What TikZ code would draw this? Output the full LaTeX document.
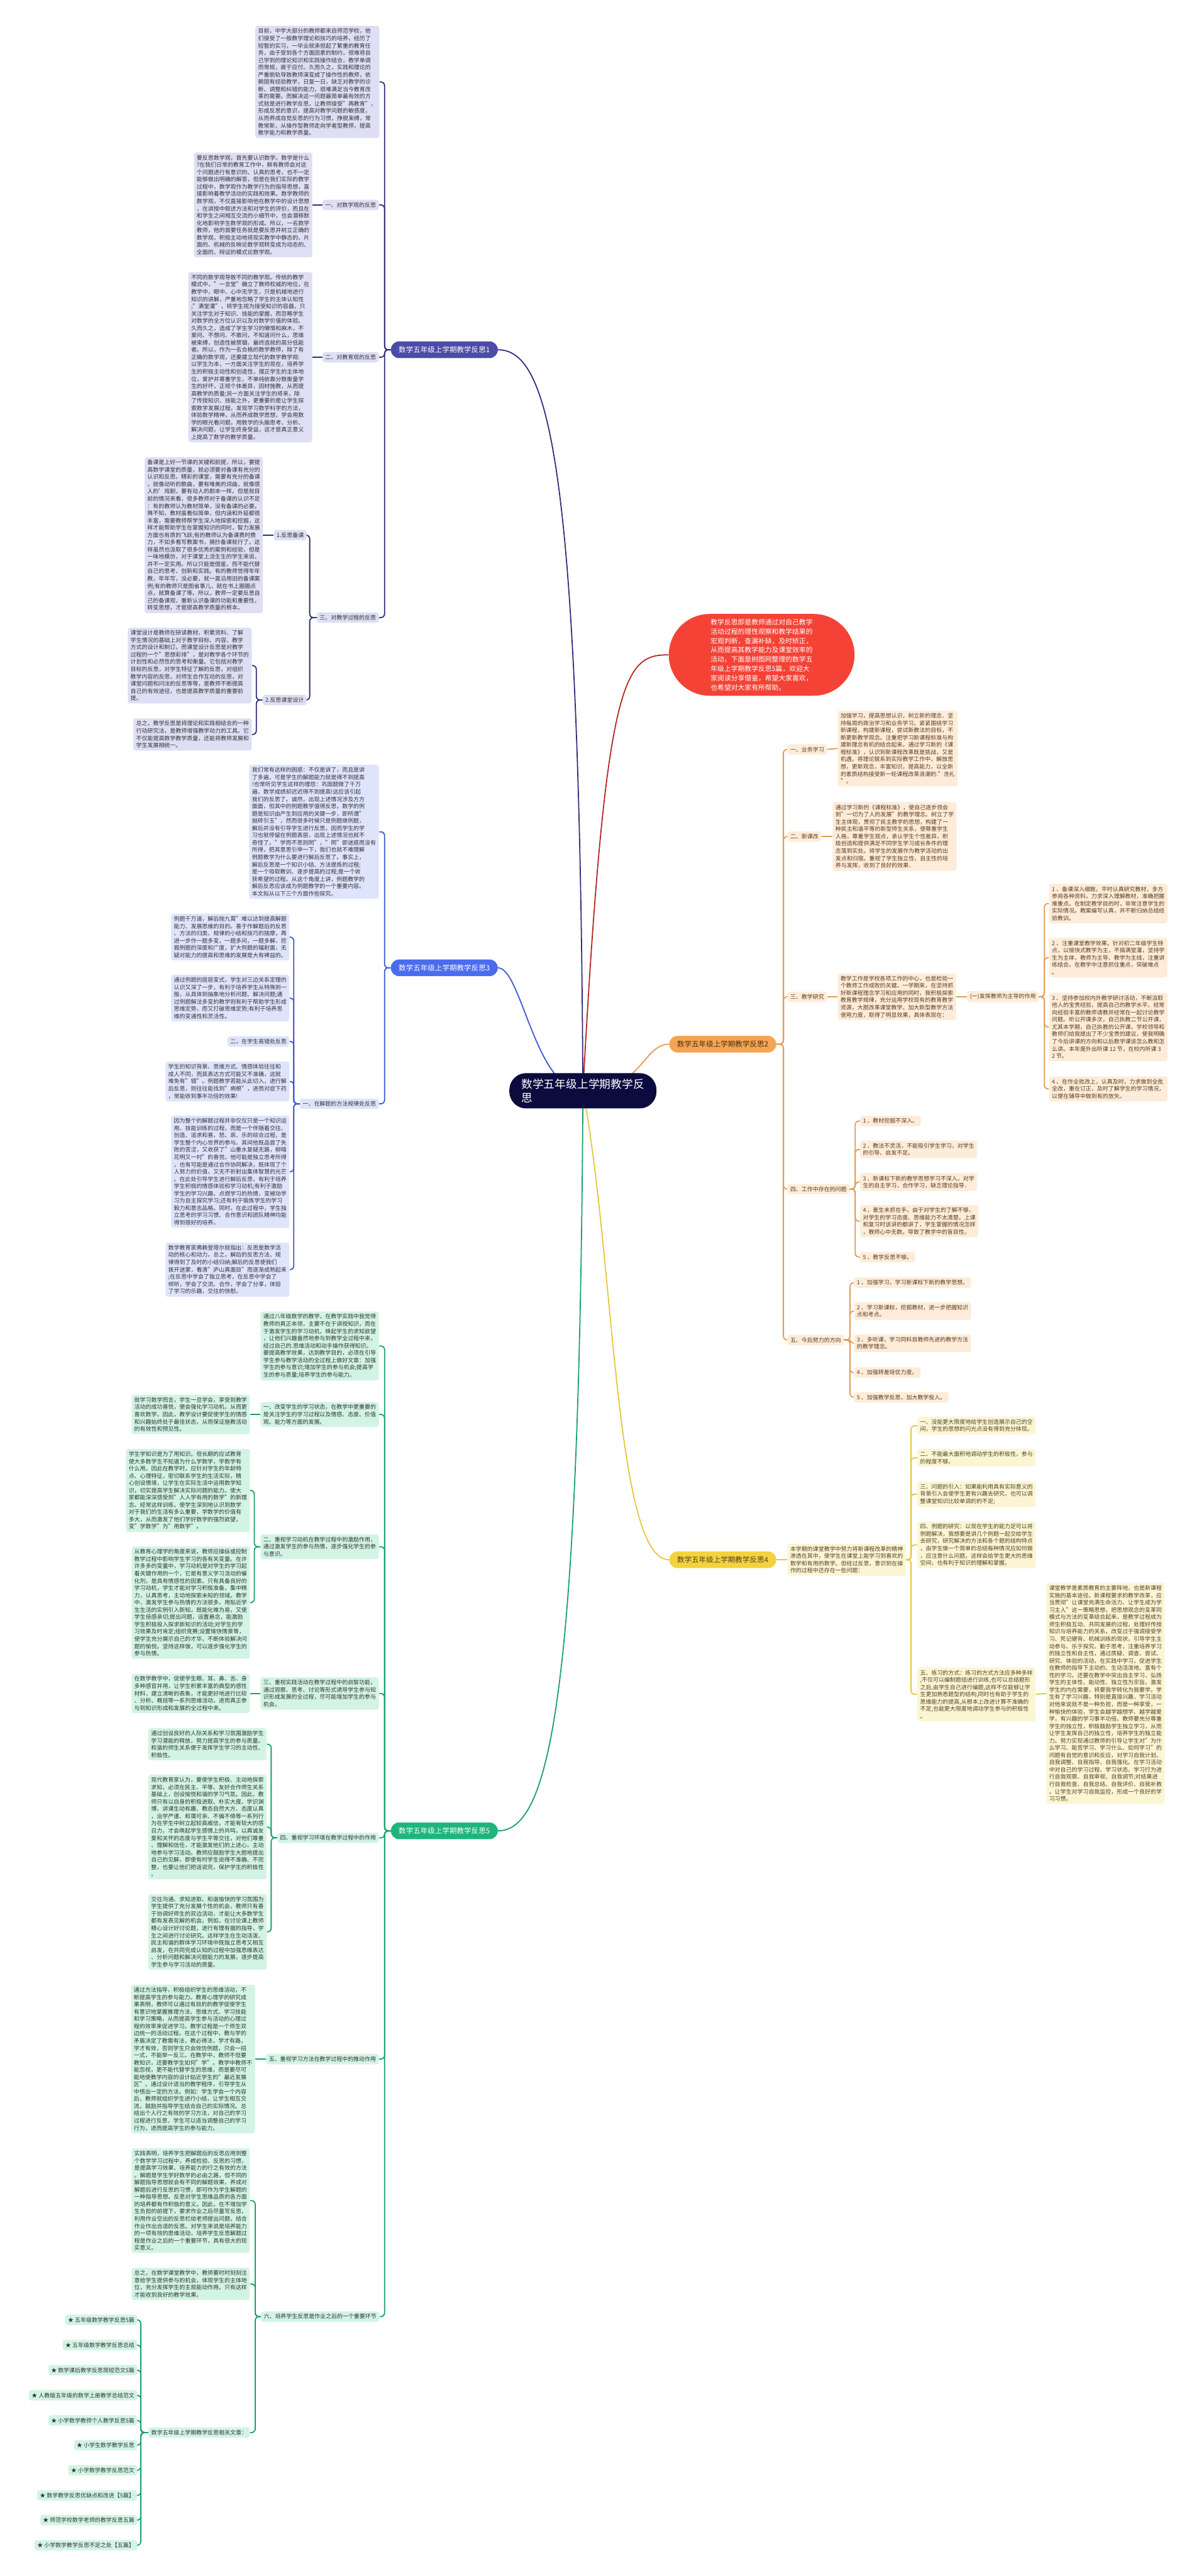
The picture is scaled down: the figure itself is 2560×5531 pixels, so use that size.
\documentclass[tikz,border=0pt]{standalone}
\usepackage{fontspec}
\setmainfont{Noto Sans CJK SC}
\usepackage{xcolor}
\usepackage{tikz}
\usetikzlibrary{backgrounds}
\definecolor{rootnavy}{HTML}{0B0B3D}
\definecolor{introred}{HTML}{F44336}
\definecolor{introink}{HTML}{B3261E}
\definecolor{navyhead}{HTML}{4B4BA8}
\definecolor{navyink}{HTML}{2D2D7A}
\definecolor{navyfill}{HTML}{DEDEF4}
\definecolor{bluehead}{HTML}{4A6CF0}
\definecolor{blueink}{HTML}{3A57D4}
\definecolor{bluefill}{HTML}{DEE4FC}
\definecolor{greenhead}{HTML}{1DB57C}
\definecolor{greenink}{HTML}{17A06A}
\definecolor{greenfill}{HTML}{D2F4E5}
\definecolor{orangehead}{HTML}{F5A551}
\definecolor{orangeink}{HTML}{E39A4F}
\definecolor{orangefill}{HTML}{FDECD9}
\definecolor{orangetext}{HTML}{5A3A1C}
\definecolor{yellowhead}{HTML}{F4D23D}
\definecolor{yellowink}{HTML}{E7C53A}
\definecolor{yellowfill}{HTML}{FCF5D3}
\definecolor{yellowtext}{HTML}{4D4222}
\definecolor{bodytext}{HTML}{333333}
\tikzstyle{rootbox} = [rectangle, rounded corners=18pt, fill=rootnavy, text=white, align=left,
  inner xsep=13pt, inner ysep=6pt, font=\fontsize{12pt}{15pt}\selectfont]
\tikzstyle{introbox} = [rectangle, rounded corners=44pt, fill=introred, text=white, align=left,
  inner xsep=45pt, inner ysep=5.5pt, font=\fontsize{7.3pt}{10pt}\selectfont]
\tikzstyle{headbox} = [rectangle, rounded corners=9pt, minimum height=18pt, inner xsep=8.5pt,
  font=\fontsize{7.8pt}{9pt}\selectfont]
\tikzstyle{leafbox} = [rectangle, rounded corners=2.5pt, align=left, inner xsep=3pt, inner ysep=2.75pt,
  font=\fontsize{6.05pt}{7.8pt}\selectfont, text=bodytext]
\tikzstyle{navybox} = [leafbox, fill=navyfill]
\tikzstyle{bluebox} = [leafbox, fill=bluefill]
\tikzstyle{greenbox} = [leafbox, fill=greenfill]
\tikzstyle{orangebox} = [leafbox, fill=orangefill, text=orangetext]
\tikzstyle{yellowbox} = [leafbox, fill=yellowfill, text=yellowtext]
\tikzstyle{navylink} = [draw=navyink, line width=1.2pt, rounded corners=4pt]
\tikzstyle{bluelink} = [draw=blueink, line width=1.2pt, rounded corners=4pt]
\tikzstyle{greenlink} = [draw=greenink, line width=1.2pt, rounded corners=4pt]
\tikzstyle{orangelink} = [draw=orangeink, line width=1.2pt, rounded corners=4pt]
\tikzstyle{yellowlink} = [draw=yellowink, line width=1.2pt, rounded corners=4pt]
\tikzstyle{redlink} = [draw=introink, line width=1.2pt]

\begin{document}
\begin{tikzpicture}[x=0.5pt, y=-0.5pt]
  \useasboundingbox (0,0) rectangle (2560,5531);

  \node (root) [rootbox] at (1252,2342) {数学五年级上学期教学反\\思};
  \node (intro) [introbox, anchor=west] at (1436,1406) {教学反思即是教师通过对自己教学\\活动过程的理性观察和教学结果的\\宏观判断，查漏补缺，及时矫正，\\从而提高其教学能力及课堂效率的\\活动。下面是树图网整理的数学五\\年级上学期教学反思5篇，欢迎大\\家阅读分享借鉴，希望大家喜欢，\\也希望对大家有所帮助。};

  \node (refl1) [headbox, fill=navyhead, text=white, anchor=west] at (839,751) {数学五年级上学期教学反思1};
  \node (refl3) [headbox, fill=bluehead, text=white, anchor=west] at (839,2078) {数学五年级上学期教学反思3};
  \node (refl5) [headbox, fill=greenhead, text=white, anchor=west] at (839,3931) {数学五年级上学期教学反思5};
  \node (refl2) [headbox, fill=orangehead, text=orangetext!80!black, anchor=west] at (1437,2242) {数学五年级上学期教学反思2};
  \node (refl4) [headbox, fill=yellowhead, text=yellowtext, anchor=west] at (1437,3349) {数学五年级上学期教学反思4};

  \node (r1lead) [navybox, anchor=east] at (815,176) {目前，中学大部分的教师都来自师范学校，他\\们接受了一般教学理论和技巧的培养，经历了\\短暂的实习，一毕业就承担起了繁重的教育任\\务，由于受到各个方面因素的制约，很难将自\\己学到的理论知识和实践操作结合，教学单调\\而常规，疲于应付。久而久之，实践和理论的\\严重脱轨导致教师演变成了操作性的教师，依\\赖固有经验教学，日复一日，缺乏对教学的诊\\断、调整和纠错的能力，很难满足当今教育改\\革的需要。而解决这一问题最简单最有效的方\\式就是进行教学反思，让教师接受"再教育"，\\形成反思的意识，提高对教学问题的敏感度，\\从而养成自觉反思的行为习惯，挣脱束缚，常\\教常新，从操作型教师走向学者型教师，提高\\教学能力和教学质量。};
  \node (r1math) [navybox, anchor=east] at (814,440) {一、对数学观的反思};
  \node (r1mathtx) [navybox, anchor=east] at (671,440) {要反思数学观，首先要认识数学。数学是什么\\?在我们日常的教育工作中，鲜有教师会对这\\个问题进行有意识的、认真的思考，也不一定\\能够做出明确的解答，但是在我们实际的教学\\过程中，数学观作为教学行为的指导思想，直\\接影响着教学活动的实践和效果。数学教师的\\数学观，不仅直接影响他在教学中的设计思想\\，在讲授中叙述方法和对学生的评价，而且在\\和学生之间相互交流的小细节中，也会潜移默\\化地影响学生数学观的形成。所以，一名数学\\教师，他的首要任务就是要反思并树立正确的\\数学观，积极主动地将现实教学中静态的、片\\面的、机械的反映论数学观转变成为动态的、\\全面的、辩证的模式论数学观。};
  \node (r1edu) [navybox, anchor=east] at (814,767) {二、对教育观的反思};
  \node (r1edutx) [navybox, anchor=east] at (671,767) {不同的数学观导致不同的教学观。传统的教学\\模式中，"一言堂"确立了教师权威的地位，在\\教学中，眼中、心中无学生，只是机械地进行\\知识的讲解，严重地忽略了学生的主体认知性\\;"满堂灌"，将学生视为接受知识的容器，只\\关注学生对于知识、技能的掌握，而忽略学生\\对数学的全方位认识以及对数学价值的体验。\\久而久之，造成了学生学习的懒惰和麻木，不\\爱问、不想问、不敢问，不知道问什么，思维\\被束缚，创造性被禁锢，最终造就的高分低能\\者。所以，作为一名合格的数学教师，除了有\\正确的数学观，还要建立现代的数学教学观:\\以学生为本，一方面关注学生的现在，培养学\\生的积极主动性和创造性，摆正学生的主体地\\位，爱护并尊重学生，不单纯依靠分数衡量学\\生的好坏，正视个体差异，因材施教，从而提\\高教学的质量;另一方面关注学生的将来，除\\了传授知识、技能之外，更重要的是让学生探\\索数学发展过程，发现学习数学科学的方法，\\体验数学精神，从而养成数学思想，学会用数\\学的眼光看问题，用数学的头脑思考、分析、\\解决问题，让学生终身受益，这才是真正意义\\上提高了数学的教学质量。};
  \node (r1proc) [navybox, anchor=east] at (814,1326) {三、对教学过程的反思};
  \node (r1prep) [navybox, anchor=east] at (659,1149) {1.反思备课};
  \node (r1preptx) [navybox, anchor=east] at (565,1149) {备课是上好一节课的关键和前提，所以，要提\\高数学课堂的质量，就必须要对备课有充分的\\认识和反思。精彩的课堂，需要有充分的备课\\，就像动听的歌曲，要有唯美的词曲，就像感\\人的'戏剧，要有动人的剧本一样。但是就目\\前的情况来看，很多教师对于备课的认识不足\\：有的教师认为教材简单，没有备课的必要。\\殊不知，教材虽看似简单，但内涵和外延都很\\丰富，需要教师帮学生深入地探索和挖掘，这\\样才能帮助学生在掌握知识的同时，智力发展\\方面也有质的飞跃;有的教师认为备课费时费\\力，不如多看写教案书，摘抄备课就行了。这\\样虽然也汲取了很多优秀的案例和经验，但是\\一味地模仿，对于课堂上活生生的学生来说，\\并不一定实用。所以只能是借鉴，而不能代替\\自己的思考、创新和实践。有的教师觉得年年\\教，年年写，没必要，就一直沿用旧的备课案\\例;有的教师只是图省事儿，就在书上圈圈点\\点，就算备课了等。所以，教师一定要反思自\\己的备课观，重新认识备课的功能和重要性，\\转变思想，才是提高教学质量的根本。};
  \node (r1plan) [navybox, anchor=east] at (659,1503) {2.反思课堂设计};
  \node (r1plantx) [navybox, anchor=east] at (541,1429) {课堂设计是教师在研读教材、积累资料、了解\\学生情况的基础上对于教学目标、内容、教学\\方式的设计和制订。而课堂设计反思是对教学\\过程的一个"思想彩排"，是对教学各个环节的\\计划性和必然性的思考和衡量。它包括对教学\\目标的反思，对学生特征了解的反思，对组织\\教学内容的反思，对师生合作互动的反思，对\\课堂问题和问法的反思等等，是教师不断提高\\自己的有效途径，也是提高教学质量的重要前\\提。};
  \node (r1sum) [navybox, anchor=east] at (541,1577) {总之，教学反思是将理论和实践相结合的一种\\行动研究法，是教师增强教学动力的工具。它\\不仅能提高数学教学质量，还能将教师发展和\\学生发展相统一。};

  \node (r3lead) [bluebox, anchor=east] at (814,1786) {我们常有这样的困惑：不仅是讲了，而且是讲\\了多遍，可是学生的解题能力就是得不到提高\\!也常听见学生这样的埋怨：巩固题做了千万\\遍，数学成绩却迟迟得不到提高!这应该引起\\我们的反思了。诚然，出现上述情况涉及方方\\面面，但其中的例题教学值得反思，数学的例\\题是知识由产生到应用的关键一步，即所谓"\\抛砖引玉"，然而很多时候只是例题继例题，\\解后并没有引导学生进行反思，因而学生的学\\习也就停留在例题表层，出现上述情况也就不\\奇怪了。"学而不思则罔"，"罔"即迷惑而没有\\所得，把其意思引申一下，我们也就不难理解\\例题教学为什么要进行解后反思了。事实上，\\解后反思是一个知识小结、方法提炼的过程;\\是一个吸取教训、逐步提高的过程;是一个收\\获希望的过程。从这个角度上讲，例题教学的\\解后反思应该成为例题教学的一个重要内容。\\本文拟从以下三个方面作些探究。};
  \node (r3rule) [bluebox, anchor=east] at (814,2370) {一、在解题的方法规律处反思};
  \node (r3ex1) [bluebox, anchor=east] at (622,2012) {例题千万道，解后抛九霄"难以达到提高解题\\能力、发展思维的目的。善于作解题后的反思\\、方法的归类、规律的小结和技巧的揣摩，再\\进一步作一题多变，一题多问，一题多解，挖\\掘例题的深度和广度，扩大例题的辐射面，无\\疑对能力的提高和思维的发展是大有裨益的。};
  \node (r3ex2) [bluebox, anchor=east] at (622,2143) {通过例题的层层变式，学生对三边关系定理的\\认识又深了一步，有利于培养学生从特殊到一\\般，从具体到抽象地分析问题、解决问题;通\\过例题解法多变的教学则有利于帮助学生形成\\思维定势，而又打破思维定势;有利于培养思\\维的变通性和灵活性。};
  \node (r3err) [bluebox, anchor=east] at (622,2236) {二，在学生易错处反思};
  \node (r3ex3) [bluebox, anchor=east] at (622,2322) {学生的知识背景、思维方式、情感体验往往和\\成人不同，而其表达方式可能又不准确，这就\\难免有"错"。例题教学若能从此切入，进行解\\后反思，则往往能找到"病根"，进而对症下药\\，常能收到事半功倍的效果!};
  \node (r3ex4) [bluebox, anchor=east] at (622,2516) {因为整个的解题过程并非仅仅只是一个知识运\\用、技能训练的过程，而是一个伴随着交往、\\创造、追求和喜、怒、哀、乐的综合过程，是\\学生整个内心世界的参与。其间他既品尝了失\\败的苦涩，又收获了"山重水复疑无路，柳暗\\花明又一村"的喜悦，他可能是独立思考所得\\，也有可能是通过合作协同解决，既体现了个\\人努力的价值，又无不折射出集体智慧的光芒\\。在此处引导学生进行解后反思，有利于培养\\学生积极的情感体验和学习动机;有利于激励\\学生的学习兴趣，点燃学习的热情，变被动学\\习为自主探究学习;还有利于锻炼学生的学习\\毅力和意志品格。同时，在此过程中，学生独\\立思考的学习习惯、合作意识和团队精神均能\\得到很好的培养。};
  \node (r3ex5) [bluebox, anchor=east] at (622,2726) {数学教育家弗赖登塔尔就指出：反思是数学活\\动的核心和动力。总之，解后的反思方法、规\\律得到了及时的小结归纳;解后的反思使我们\\拨开迷蒙，看清"庐山真面目"而逐渐成熟起来\\;在反思中学会了独立思考，在反思中学会了\\倾听，学会了交流、合作，学会了分享，体验\\了学习的乐趣，交往的快慰。};

  \node (r5lead) [greenbox, anchor=east] at (814,2890) {通过八年级数学的教学，在教学实践中我觉得\\教师的真正本领，主要不在于讲授知识，而在\\于激发学生的学习动机，唤起学生的求知欲望\\，让他们兴趣盎然地参与到教学全过程中来，\\经过自己的.思维活动和动手操作获得知识。\\要提高教学效果，达到教学目的，必须在引导\\学生参与教学活动的全过程上做好文章：加强\\学生的参与意识;增加学生的参与机会;提高学\\生的参与质量;培养学生的参与能力。};
  \node (r5state) [greenbox, anchor=east] at (814,3037) {一、改变学生的学习状态，在教学中更重要的\\是关注学生的学习过程以及情感、态度、价值\\观、能力等方面的发展。};
  \node (r5statetx) [greenbox, anchor=east] at (537,3037) {就学习数学而言，学生一旦学会，享受到教学\\活动的成功喜悦，便会强化学习动机，从而更\\喜欢数学。因此，教学设计要促使学生的情感\\和兴趣始终处于最佳状态，从而保证施教活动\\的有效性和预见性。};
  \node (r5motive) [greenbox, anchor=east] at (814,3321) {二、重视学习动机在教学过程中的激励作用，\\通过激发学生的参与热情，逐步强化学生的参\\与意识。};
  \node (r5motivea) [greenbox, anchor=east] at (537,3200) {学生学知识是为了用知识。但长期的应试教育\\使大多数学生不知道为什么学数学，学数学有\\什么用。因此在教学时，应针对学生的年龄特\\点、心理特征，密切联系学生的生活实际，精\\心创设情境，让学生在实际生活中运用数学知\\识，切实提高学生解决实际问题的能力。使大\\家都能深深感受到"人人学有用的数学"的新理\\念。经常这样训练，使学生深刻地认识到数学\\对于我们的生活有多么重要，学数学的价值有\\多大，从而激发了他们学好数学的强烈欲望，\\变"学数学"为"用数学"。};
  \node (r5motiveb) [greenbox, anchor=east] at (537,3441) {从教育心理学的角度来说，教师应操纵或控制\\教学过程中影响学生学习的各有关变量。在许\\许多多的变量中，学习动机是对学生的学习起\\着关键作用的一个，它是有意义学习活动的催\\化剂，是具有情感性的因素。只有具备良好的\\学习动机，学生才能对学习积极准备，集中精\\力，认真思考，主动地探索未知的领域。教学\\中，激发学生参与热情的方法很多。用贴近学\\生生活的实例引入新知，既能化难为易，又使\\学生倍感亲切;提出问题，设置悬念，能激励\\学生积极投入探求新知识的活动;对学生的学\\习效果及时肯定;组织竞赛;设置愉快情景等，\\使学生充分展示自己的才华，不断体验解决问\\题的愉悦。坚持这样做，可以逐步强化学生的\\参与热情。};
  \node (r5practice) [greenbox, anchor=east] at (814,3636) {三、重视实践活动在教学过程中的启智功能，\\通过观察、思考、讨论等形式诱导学生参与知\\识形成发展的全过程，尽可能增加学生的参与\\机会。};
  \node (r5practicetx) [greenbox, anchor=east] at (537,3636) {在数学教学中，促使学生眼、耳、鼻、舌、身\\多种感官并用，让学生积累丰富的典型的感性\\材料，建立清晰的表象，才能更好地进行比较\\、分析、概括等一系列思维活动，进而真正参\\与到知识形成和发展的全过程中来。};
  \node (r5env) [greenbox, anchor=east] at (814,3946) {四、重视学习环境在教学过程中的作用};
  \node (r5enva) [greenbox, anchor=east] at (573,3745) {通过创设良好的人际关系和学习氛围激励学生\\学习潜能的释放，努力提高学生的参与质量。\\和谐的师生关系便于发挥学生学习的主动性、\\积极性。};
  \node (r5envb) [greenbox, anchor=east] at (573,3923) {现代教育家认为，要使学生积极、主动地探索\\求知，必须在民主、平等、友好合作师生关系\\基础上，创设愉悦和谐的学习气氛。因此，教\\师只有以自身的积极进取、朴实大度、学识渊\\博、讲课生动有趣、教态自然大方、态度认真\\，治学严谨、和蔼可亲、不偏不倚等一系列行\\为在学生中树立起较高威信，才能有较大的感\\召力，才会唤起学生感情上的共鸣，以真诚友\\爱和关怀的态度与学生平等交往，对他们尊重\\、理解和信任，才能激发他们的上进心，主动\\地参与学习活动。教师应鼓励学生大胆地提出\\自己的见解，即使有时学生说得不准确、不完\\整，也要让他们把话说完，保护学生的积极性\\。};
  \node (r5envc) [greenbox, anchor=east] at (573,4148) {交往沟通、求知进取、和谐愉快的学习氛围为\\学生提供了充分发展个性的机会，教师只有善\\于协调好师生的双边活动，才能让大多数学生\\都有发表见解的机会。例如，在讨论课上教师\\精心设计好讨论题，进行有理有据的指导，学\\生之间进行讨论研究。这样学生在生动活泼、\\民主和谐的群体学习环境中既独立思考又相互\\启发，在共同完成认知的过程中加强思维表达\\、分析问题和解决问题能力的发展，逐步提高\\学生参与学习活动的质量。};
  \node (r5method) [greenbox, anchor=east] at (814,4421) {五、重视学习方法在教学过程中的推动作用};
  \node (r5methodtx) [greenbox, anchor=east] at (548,4421) {通过方法指导，积极组织学生的思维活动，不\\断提高学生的参与能力。教育心理学的研究成\\果表明，教师可以通过有目的的教学促使学生\\有意识地掌握推理方法、思维方式、学习技能\\和学习策略，从而提高学生参与活动的心理过\\程的效率来促进学习。教学过程是一个师生双\\边统一的活动过程。在这个过程中，教与学的\\矛盾决定了教需有法，教必得法，学才有路，\\学才有效，否则学生只会效仿例题，只会一招\\一式，不能举一反三。在教学中，教师不但要\\教知识，还要教学生如何"学"。教学中教师不\\能忽视，更不能代替学生的思维，而是要尽可\\能地使教学内容的设计贴近学生的"最近发展\\区"。通过设计适当的教学程序，引导学生从\\中悟出一定的方法。例如：学生学会一个内容\\后，教师就组织学生进行小结，让学生相互交\\流，鼓励并指导学生结合自己的实际情况。总\\结出个人行之有效的学习方法，对自己的学习\\过程进行反思，学生可以适当调整自己的学习\\行为，进而提高学生的参与能力。};
  \node (r5habit) [greenbox, anchor=east] at (815,4974) {六、培养学生反思是作业之后的一个重要环节};
  \node (r5habita) [greenbox, anchor=east] at (537,4725) {实践表明，培养学生把解题后的反思应用到整\\个数学学习过程中，养成检验、反思的习惯，\\是提高学习效果、培养能力的行之有效的方法\\。解题是学生学好数学的必由之路，但不同的\\解题指导思想就会有不同的解题效果，养成对\\解题后进行反思的习惯，即可作为学生解题的\\一种指导思想。反思对学生思维品质的各方面\\的培养都有作积极的意义。因此，在不增加学\\生负担的前提下，要求作业之后尽量写反思，\\利用作业空出的反思栏给老师提出问题，结合\\作业作出合适的反思。对学生来说是培养能力\\的一项有效的思维活动，培养学生反思解题过\\程是作业之后的一个重要环节，具有很大的现\\实意义。};
  \node (r5habitb) [greenbox, anchor=east] at (537,4904) {总之，在数学课堂教学中，教师要时时刻刻注\\意给学生提供参与的机会，体现学生的主体地\\位，充分发挥学生的主观能动作用。只有这样\\才能收到良好的教学效果。};
  \node (r5links) [greenbox, anchor=east] at (537,5223) {数学五年级上学期教学反思相关文章：};
  \node (link1) [greenbox, anchor=east] at (295,4981) {★ 五年级数学教学反思5篇};
  \node (link2) [greenbox, anchor=east] at (295,5035) {★ 五年级数学教学反思总结};
  \node (link3) [greenbox, anchor=east] at (295,5089) {★ 数学课后教学反思简短范文5篇};
  \node (link4) [greenbox, anchor=east] at (295,5143) {★ 人教版五年级的数学上册教学总结范文};
  \node (link5) [greenbox, anchor=east] at (295,5197) {★ 小学数学教师个人教学反思5篇};
  \node (link6) [greenbox, anchor=east] at (295,5250) {★ 小学生数学教学反思};
  \node (link7) [greenbox, anchor=east] at (295,5304) {★ 小学数学教学反思范文};
  \node (link8) [greenbox, anchor=east] at (295,5358) {★ 数学教学反思优缺点和改进【5篇】};
  \node (link9) [greenbox, anchor=east] at (295,5411) {★ 师范学校数学老师的教学反思五篇};
  \node (link10) [greenbox, anchor=east] at (295,5465) {★ 小学数学教学反思不足之处【五篇】};

  \node (r2study) [orangebox, anchor=west] at (1691,1609) {一、业务学习};
  \node (r2studytx) [orangebox, anchor=west] at (1799,1607) {加强学习，提高思想认识，树立新的理念．坚\\持每周的政治学习和业务学习，紧紧围绕学习\\新课程，构建新课程，尝试新教法的目标，不\\断更新教学观念。注重把学习新课程标准与构\\建新理念有机的结合起来。通过学习新的《课\\程标准》，认识到新课程改革既是挑战，又是\\机遇。将理论联系到实际教学工作中，解放思\\想，更新观念，丰富知识，提高能力，以全新\\的素质结构接受新一轮课程改革浪潮的."洗礼\\"。};
  \node (r2reform) [orangebox, anchor=west] at (1691,1796) {二、新课改};
  \node (r2reformtx) [orangebox, anchor=west] at (1788,1796) {通过学习新的《课程标准》，使自己逐步领会\\到"一切为了人的发展"的教学理念。树立了学\\生主体观，贯彻了民主教学的思想，构建了一\\种民主和谐平等的新型师生关系，使尊重学生\\人格，尊重学生观点，承认学生个性差异，积\\极创造和提供满足不同学生学习成长条件的理\\念落到实处。将学生的发展作为教学活动的出\\发点和归宿。重视了学生独立性，自主性的培\\养与发挥，收到了良好的效果．};
  \node (r2research) [orangebox, anchor=west] at (1691,2140) {三、教学研究};
  \node (r2researchtx) [orangebox, anchor=west] at (1799,2140) {教学工作是学校各项工作的中心，也是检验一\\个教师工作成败的关键。一学期来，在坚持抓\\好新课程理念学习和应用的同时，我积极探索\\教育教学规律，充分运用学校现有的教育教学\\资源，大胆改革课堂教学，加大新型教学方法\\使用力度，取得了明显效果，具体表现在：};
  \node (r2guide) [orangebox, anchor=west] at (2077,2140) {(一)发挥教师为主导的作用};
  \node (r2g1) [orangebox, anchor=west] at (2253,1940) {1 、备课深入细致。平时认真研究教材，多方\\参阅各种资料，力求深入理解教材，准确把握\\难重点。在制定教学目的时，非常注意学生的\\实际情况。教案编写认真，并不断归纳总结经\\验教训。};
  \node (r2g2) [orangebox, anchor=west] at (2253,2056) {2 、注重课堂教学效果。针对初二年级学生特\\点，以愉快式教学为主，不搞满堂灌，坚持学\\生为主体，教师为主导、教学为主线，注重讲\\练结合。在教学中注意抓住重点，突破难点\\。};
  \node (r2g3) [orangebox, anchor=west] at (2253,2205) {3 、坚持参加校内外教学研讨活动，不断汲取\\他人的宝贵经验，提高自己的教学水平。经常\\向经验丰富的教师请教并经常在一起讨论教学\\问题。听公开课多次，自己执教二节公开课，\\尤其本学期，自己执教的公开课，学校领导和\\教师们给我提出了不少宝贵的建议，使我明确\\了今后讲课的方向和以后数学课该怎么教和怎\\么讲。本年度外出听课 12 节，在校内听课 3\\2 节。};
  \node (r2g4) [orangebox, anchor=west] at (2253,2338) {4 、在作业批改上，认真及时，力求做到全批\\全改，重在订正，及时了解学生的学习情况，\\以便在辅导中做到有的放矢。};
  \node (r2issue) [orangebox, anchor=west] at (1691,2553) {四、工作中存在的问题};
  \node (r2i1) [orangebox, anchor=west] at (1847,2407) {1 、教材挖掘不深入。};
  \node (r2i2) [orangebox, anchor=west] at (1847,2468) {2 、教法不灵活，不能吸引学生学习，对学生\\的引导、启发不足。};
  \node (r2i3) [orangebox, anchor=west] at (1847,2538) {3 、新课标下新的教学思想学习不深入。对学\\生的自主学习，合作学习，缺乏理论指导．};
  \node (r2i4) [orangebox, anchor=west] at (1847,2622) {4 、差生未抓在手。由于对学生的了解不够，\\对学生的学习态度、思维能力不太清楚。上课\\和复习时该讲的都讲了，学生掌握的情况怎样\\，教师心中无数。导致了教学中的盲目性。};
  \node (r2i5) [orangebox, anchor=west] at (1847,2699) {5 、教学反思不够。};
  \node (r2plan) [orangebox, anchor=west] at (1691,2877) {五、今后努力的方向};
  \node (r2p1) [orangebox, anchor=west] at (1834,2754) {1 、加强学习，学习新课标下新的教学思想。};
  \node (r2p2) [orangebox, anchor=west] at (1834,2815) {2 、学习新课标，挖掘教材，进一步把握知识\\点和考点。};
  \node (r2p3) [orangebox, anchor=west] at (1834,2884) {3 、多听课，学习同科目教师先进的教学方法\\的教学理念。};
  \node (r2p4) [orangebox, anchor=west] at (1834,2947) {4 、加强转差培优力度。};
  \node (r2p5) [orangebox, anchor=west] at (1834,3000) {5 、加强教学反思，加大教学投入。};

  \node (r4lead) [yellowbox, anchor=west] at (1691,3349) {本学期的课堂教学中努力将新课程改革的精神\\渗透在其中，使学生在课堂上能学习到喜欢的\\数学和有用的数学。但经过反思，意识到在操\\作的过程中还存在一些问题：};
  \node (r4p1) [yellowbox, anchor=west] at (1970,3061) {一、没能更大限度地给学生创造展示自己的空\\间，学生的思想的闪光点没有得到充分体现。};
  \node (r4p2) [yellowbox, anchor=west] at (1970,3130) {二、不能最大面积地调动学生的积极性，参与\\的程度不够。};
  \node (r4p3) [yellowbox, anchor=west] at (1970,3208) {三、问题的引入：如果能利用具有实际意义的\\背景引入会使学生更有兴趣去研究，也可以调\\整课堂知识比较单调的的不足;};
  \node (r4p4) [yellowbox, anchor=west] at (1970,3317) {四、例题的研究：以现在学生的能力足可以将\\例题解决，我想要是讲几个例题一起交给学生\\去研究，研究解决的方法和各个题的结构特点\\，由学生做一个简单的总结每种情况应如何做\\，应注意什么问题，这样会给学生更大的思维\\空间，也有利于知识的理解和掌握。};
  \node (r4p5) [yellowbox, anchor=west] at (1970,3638) {五、练习的方式：练习的方式方法应多种多样\\,不仅可以编制题组进行训练,也可以总结题形\\之后,由学生自己进行编题,这样不仅能够让学\\生更加熟悉题型的结构,同时也有助于学生的\\思维能力的提高,从根本上改进计算不准确的\\不足,也能更大限度地调动学生参与的积极性\\。};
  \node (r4class) [yellowbox, anchor=west] at (2247,3636) {课堂教学是素质教育的主要阵地，也是新课程\\实施的基本途径。新课程要求的教学改革，应\\当贯彻"让课堂充满生命活力、让学生成为学\\习主人"这一策略思想，把思想观念的变革同\\模式与方法的变革结合起来，是教学过程成为\\师生积极互动、共同发展的过程，处理好传授\\知识与培养能力的关系。改变过于强调接受学\\习、死记硬背、机械训练的现状，引导学生主\\动参与、乐于探究、勤于思考，注重培养学习\\的独立性和自主性，通过质疑、调查、尝试、\\研究、体验的活动，在实践中学习，促进学生\\在教师的指导下主动的、生动活泼地、富有个\\性的学习。还要在教学中突出自主学习，弘扬\\学生的主体性、能动性、独立性为宗旨。激发\\学生的内在需要，将要我学转化为我要学。学\\生有了学习兴趣，特别是直接兴趣，学习活动\\对他来说就不是一种负担，而是一种享受，一\\种愉快的体验，学生会越学越想学、越学越爱\\学，有兴趣的学习事半功倍。教师要充分尊重\\学生的独立性，积极鼓励学生独立学习，从而\\让学生发挥自己的独立性，培养学生的独立能\\力。努力实现通过教师的引导让学生对"为什\\么学习、能否学习、学习什么、如何学习"的\\问题有自觉的意识和反应，对学习自我计划、\\自我调整、自我指导、自我强化。在学习活动\\中对自己的学习过程、学习状态、学习行为进\\行自我观察、自我审视、自我调节;对结果进\\行自我检查、自我总结、自我评价、自我补救\\。让学生对学习自我监控，形成一个良好的学\\习习惯。};

  \begin{scope}[on background layer]
    \fill[white] (0,0) rectangle (2560,5531);

    \draw[redlink] (intro.west) .. controls (1340,1406) and (1300,1450) .. (root.center);
    \draw[navylink] (refl1.east) .. controls (1180,751) and (1245,1000) .. (root.center);
    \draw[bluelink] (refl3.east) .. controls (1120,2078) and (1150,2342) .. (root.center);
    \draw[greenlink] (refl5.east) .. controls (1180,3931) and (1245,3650) .. (root.center);
    \draw[orangelink] (root.center) .. controls (1380,2342) and (1380,2242) .. (refl2.west);
    \draw[yellowlink] (root.center) .. controls (1320,2700) and (1320,3349) .. (refl4.west);

    \draw[navylink] (refl1.west) -- ++(-13,0) |- (r1lead.east);
    \draw[navylink] (refl1.west) -- ++(-13,0) |- (r1math.east);
    \draw[navylink] (refl1.west) -- ++(-13,0) |- (r1edu.east);
    \draw[navylink] (refl1.west) -- ++(-13,0) |- (r1proc.east);
    \draw[navylink] (r1math.west) -- (r1mathtx.east);
    \draw[navylink] (r1edu.west) -- (r1edutx.east);
    \draw[navylink] (r1proc.west) -- ++(-15,0) |- (r1prep.east);
    \draw[navylink] (r1proc.west) -- ++(-15,0) |- (r1plan.east);
    \draw[navylink] (r1prep.west) -- (r1preptx.east);
    \draw[navylink] (r1plan.west) -- ++(-13,0) |- (r1plantx.east);
    \draw[navylink] (r1plan.west) -- ++(-13,0) |- (r1sum.east);

    \draw[bluelink] (refl3.west) -- ++(-13,0) |- (r3lead.east);
    \draw[bluelink] (refl3.west) -- ++(-13,0) |- (r3rule.east);
    \draw[bluelink] (r3rule.west) -- ++(-13,0) |- (r3ex1.east);
    \draw[bluelink] (r3rule.west) -- ++(-13,0) |- (r3ex2.east);
    \draw[bluelink] (r3rule.west) -- ++(-13,0) |- (r3err.east);
    \draw[bluelink] (r3rule.west) -- ++(-13,0) |- (r3ex3.east);
    \draw[bluelink] (r3rule.west) -- ++(-13,0) |- (r3ex4.east);
    \draw[bluelink] (r3rule.west) -- ++(-13,0) |- (r3ex5.east);

    \draw[greenlink] (refl5.west) -- ++(-13,0) |- (r5lead.east);
    \draw[greenlink] (refl5.west) -- ++(-13,0) |- (r5state.east);
    \draw[greenlink] (refl5.west) -- ++(-13,0) |- (r5motive.east);
    \draw[greenlink] (refl5.west) -- ++(-13,0) |- (r5practice.east);
    \draw[greenlink] (refl5.west) -- ++(-13,0) |- (r5env.east);
    \draw[greenlink] (refl5.west) -- ++(-13,0) |- (r5method.east);
    \draw[greenlink] (refl5.west) -- ++(-13,0) |- (r5habit.east);
    \draw[greenlink] (r5state.west) -- (r5statetx.east);
    \draw[greenlink] (r5motive.west) -- ++(-13,0) |- (r5motivea.east);
    \draw[greenlink] (r5motive.west) -- ++(-13,0) |- (r5motiveb.east);
    \draw[greenlink] (r5practice.west) -- (r5practicetx.east);
    \draw[greenlink] (r5env.west) -- ++(-13,0) |- (r5enva.east);
    \draw[greenlink] (r5env.west) -- ++(-13,0) |- (r5envb.east);
    \draw[greenlink] (r5env.west) -- ++(-13,0) |- (r5envc.east);
    \draw[greenlink] (r5method.west) -- (r5methodtx.east);
    \draw[greenlink] (r5habit.west) -- ++(-12,0) |- (r5habita.east);
    \draw[greenlink] (r5habit.west) -- ++(-12,0) |- (r5habitb.east);
    \draw[greenlink] (r5habit.west) -- ++(-12,0) |- (r5links.east);
    \draw[greenlink] (r5links.west) -- ++(-16,0) |- (link1.east);
    \draw[greenlink] (r5links.west) -- ++(-16,0) |- (link2.east);
    \draw[greenlink] (r5links.west) -- ++(-16,0) |- (link3.east);
    \draw[greenlink] (r5links.west) -- ++(-16,0) |- (link4.east);
    \draw[greenlink] (r5links.west) -- ++(-16,0) |- (link5.east);
    \draw[greenlink] (r5links.west) -- ++(-16,0) |- (link6.east);
    \draw[greenlink] (r5links.west) -- ++(-16,0) |- (link7.east);
    \draw[greenlink] (r5links.west) -- ++(-16,0) |- (link8.east);
    \draw[greenlink] (r5links.west) -- ++(-16,0) |- (link9.east);
    \draw[greenlink] (r5links.west) -- ++(-16,0) |- (link10.east);

    \draw[orangelink] (refl2.east) -- ++(15,0) |- (r2study.west);
    \draw[orangelink] (refl2.east) -- ++(15,0) |- (r2reform.west);
    \draw[orangelink] (refl2.east) -- ++(15,0) |- (r2research.west);
    \draw[orangelink] (refl2.east) -- ++(15,0) |- (r2issue.west);
    \draw[orangelink] (refl2.east) -- ++(15,0) |- (r2plan.west);
    \draw[orangelink] (r2study.east) -- (r2studytx.west);
    \draw[orangelink] (r2reform.east) -- (r2reformtx.west);
    \draw[orangelink] (r2research.east) -- (r2researchtx.west);
    \draw[orangelink] (r2researchtx.east) -- (r2guide.west);
    \draw[orangelink] (r2guide.east) -- ++(12,0) |- (r2g1.west);
    \draw[orangelink] (r2guide.east) -- ++(12,0) |- (r2g2.west);
    \draw[orangelink] (r2guide.east) -- ++(12,0) |- (r2g3.west);
    \draw[orangelink] (r2guide.east) -- ++(12,0) |- (r2g4.west);
    \draw[orangelink] (r2issue.east) -- ++(12,0) |- (r2i1.west);
    \draw[orangelink] (r2issue.east) -- ++(12,0) |- (r2i2.west);
    \draw[orangelink] (r2issue.east) -- ++(12,0) |- (r2i3.west);
    \draw[orangelink] (r2issue.east) -- ++(12,0) |- (r2i4.west);
    \draw[orangelink] (r2issue.east) -- ++(12,0) |- (r2i5.west);
    \draw[orangelink] (r2plan.east) -- ++(13,0) |- (r2p1.west);
    \draw[orangelink] (r2plan.east) -- ++(13,0) |- (r2p2.west);
    \draw[orangelink] (r2plan.east) -- ++(13,0) |- (r2p3.west);
    \draw[orangelink] (r2plan.east) -- ++(13,0) |- (r2p4.west);
    \draw[orangelink] (r2plan.east) -- ++(13,0) |- (r2p5.west);

    \draw[yellowlink] (refl4.east) -- (r4lead.west);
    \draw[yellowlink] (r4lead.east) -- ++(11,0) |- (r4p1.west);
    \draw[yellowlink] (r4lead.east) -- ++(11,0) |- (r4p2.west);
    \draw[yellowlink] (r4lead.east) -- ++(11,0) |- (r4p3.west);
    \draw[yellowlink] (r4lead.east) -- ++(11,0) |- (r4p4.west);
    \draw[yellowlink] (r4lead.east) -- ++(11,0) |- (r4p5.west);
    \draw[yellowlink] (r4p5.east) -- (r4class.west);
  \end{scope}
\end{tikzpicture}
\end{document}
